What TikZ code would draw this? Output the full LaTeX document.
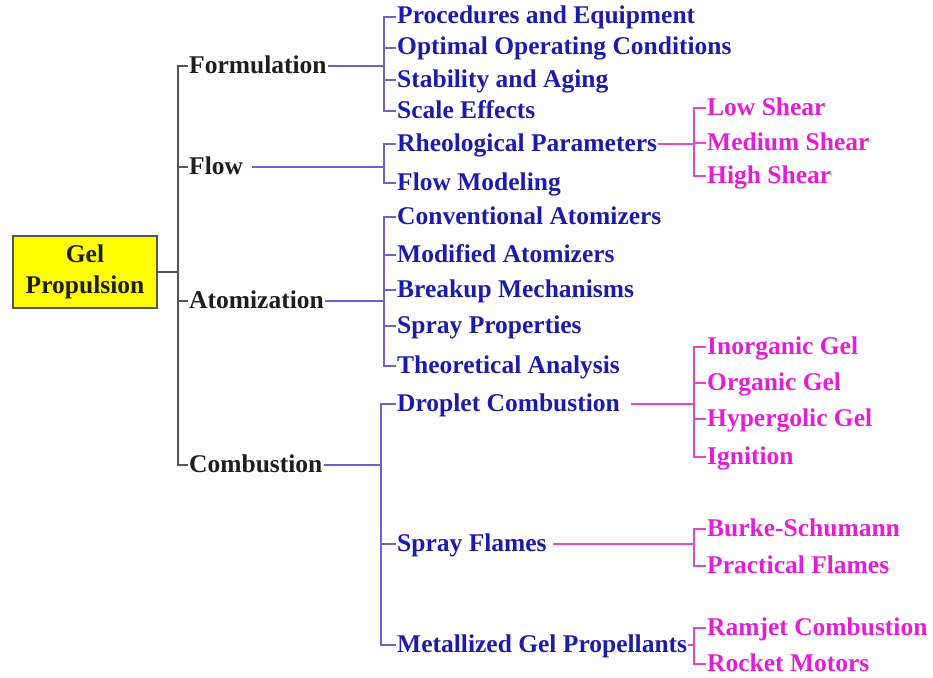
\documentclass[tikz,border=0pt]{standalone}
\usepackage{fontspec}
\setmainfont{Liberation Serif}
\definecolor{gelyellow}{RGB}{255,255,0}
\definecolor{toptext}{RGB}{30,30,30}
\definecolor{midtext}{RGB}{28,28,170}
\definecolor{subtext}{RGB}{228,30,212}
\definecolor{topline}{RGB}{85,85,85}
\definecolor{midline}{RGB}{108,100,200}
\definecolor{subline}{RGB}{226,70,210}

\begin{document}
\begin{tikzpicture}[x=1pt, y=-1pt, font=\fontsize{25.5}{31}\selectfont\bfseries,
  item/.style={anchor=west, inner sep=1pt, text height=17pt, text depth=3pt},
  topitem/.style={item, text=toptext},
  miditem/.style={item, text=midtext},
  subitem/.style={item, text=subtext},
  topconn/.style={draw=topline, line width=2pt},
  midconn/.style={draw=midline, line width=2pt},
  subconn/.style={draw=subline, line width=2pt}]

\useasboundingbox (0,0) rectangle (933,677);

% root
\node[draw=topline, line width=1.5pt, fill=gelyellow, text=toptext, align=center,
  minimum width=144pt, minimum height=72pt, inner sep=0pt] (root) at (85,272)
  {Gel\\Propulsion};

% first level
\node[topitem] (form) at (188,66) {Formulation};
\node[topitem] (flow) at (188,167) {Flow};
\node[topitem] (atom) at (188,301) {Atomization};
\node[topitem] (comb) at (188,465) {Combustion};

\coordinate (trunk) at (178,272);
\draw[topconn] (root.east) -- (trunk);
\foreach \n in {form, flow, atom, comb}
  \draw[topconn] (trunk) |- (\n.west);

% second level
\node[miditem] (proc) at (396,17) {Procedures and Equipment};
\node[miditem] (optim) at (396,48) {Optimal Operating Conditions};
\node[miditem] (stab) at (396,80) {Stability and Aging};
\node[miditem] (scale) at (396,111) {Scale Effects};

\node[miditem] (rheo) at (396,144) {Rheological Parameters};
\node[miditem] (fmod) at (396,183) {Flow Modeling};

\node[miditem] (conv) at (396,217) {Conventional Atomizers};
\node[miditem] (modat) at (396,255) {Modified Atomizers};
\node[miditem] (breakup) at (396,290) {Breakup Mechanisms};
\node[miditem] (sprayp) at (396,326) {Spray Properties};
\node[miditem] (theory) at (396,366) {Theoretical Analysis};

\node[miditem] (drop) at (396,404) {Droplet Combustion};
\node[miditem] (sflame) at (396,544) {Spray Flames};
\node[miditem] (metal) at (396,645) {Metallized Gel Propellants};

\coordinate (bForm) at (384,66);
\coordinate (bFlow) at (384,167);
\coordinate (bAtom) at (384,301);
\coordinate (bComb) at (381,465);

\draw[midconn] (form.east) -- (bForm);
\foreach \n in {proc, optim, stab, scale}
  \draw[midconn] (bForm) |- (\n.west);
\draw[midconn] ([xshift=8pt]flow.east) -- (bFlow);
\foreach \n in {rheo, fmod}
  \draw[midconn] (bFlow) |- (\n.west);
\draw[midconn] (atom.east) -- (bAtom);
\foreach \n in {conv, modat, breakup, sprayp, theory}
  \draw[midconn] (bAtom) |- (\n.west);
\draw[midconn] (comb.east) -- (bComb);
\foreach \n in {drop, sflame, metal}
  \draw[midconn] (bComb) |- (\n.west);

% third level
\node[subitem] (low) at (706,108) {Low Shear};
\node[subitem] (med) at (706,143) {Medium Shear};
\node[subitem] (high) at (706,176) {High Shear};

\node[subitem] (inorg) at (706,347) {Inorganic Gel};
\node[subitem] (org) at (706,383) {Organic Gel};
\node[subitem] (hyper) at (706,419) {Hypergolic Gel};
\node[subitem] (ign) at (706,457) {Ignition};

\node[subitem] (burke) at (706,529) {Burke-Schumann};
\node[subitem] (pract) at (706,566) {Practical Flames};

\node[subitem] (ramjet) at (706,628) {Ramjet Combustion};
\node[subitem] (rocket) at (706,664) {Rocket Motors};

\coordinate (bRheo) at (694,144);
\coordinate (bDrop) at (694,404);
\coordinate (bSpray) at (694,544);
\coordinate (bMetal) at (694,645);

\draw[subconn] (rheo.east) -- (bRheo);
\foreach \n in {low, med, high}
  \draw[subconn] (bRheo) |- (\n.west);
\draw[subconn] ([xshift=10pt]drop.east) -- (bDrop);
\foreach \n in {inorg, org, hyper, ign}
  \draw[subconn] (bDrop) |- (\n.west);
\draw[subconn] ([xshift=5pt]sflame.east) -- (bSpray);
\foreach \n in {burke, pract}
  \draw[subconn] (bSpray) |- (\n.west);
\draw[subconn] (metal.east) -- (bMetal);
\foreach \n in {ramjet, rocket}
  \draw[subconn] (bMetal) |- (\n.west);

\end{tikzpicture}
\end{document}
